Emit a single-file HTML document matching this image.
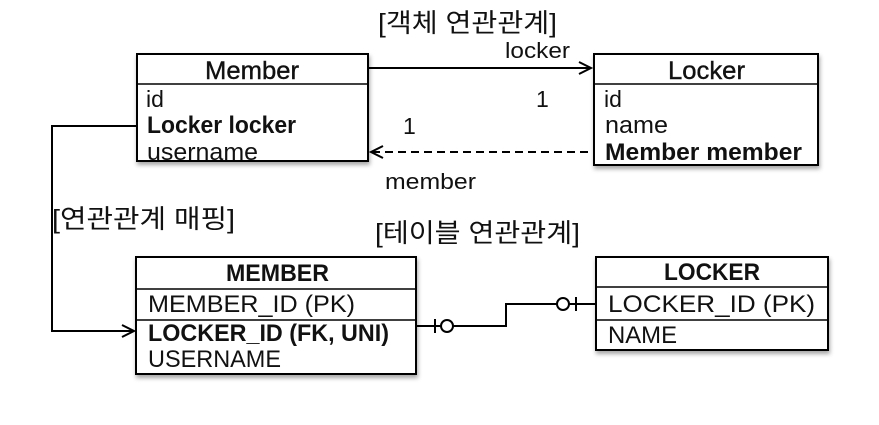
<!DOCTYPE html>
<html><head><meta charset="utf-8"><style>
html,body{margin:0;padding:0;background:#fff;}
svg{display:block;}
text{font-family:"Liberation Sans","Noto Sans CJK KR",sans-serif;fill:#111;}
</style></head><body>
<svg width="879" height="425" viewBox="0 0 879 425" xmlns="http://www.w3.org/2000/svg">
<defs>
<filter id="sh" x="-5%" y="-5%" width="112%" height="120%"><feDropShadow dx="1" dy="3" stdDeviation="2" flood-color="#000" flood-opacity="0.35"/></filter>
</defs>
<text x="378" y="32" font-size="26" textLength="179" lengthAdjust="spacingAndGlyphs">[객체 연관관계]</text>
<!-- Member -->
<rect x="137" y="54" width="231" height="107" fill="#fff" stroke="#000" stroke-width="2" filter="url(#sh)"/>
<line x1="137" y1="84" x2="368" y2="84" stroke="#000" stroke-width="1.5"/>
<text x="205" y="79" font-size="25" textLength="94" lengthAdjust="spacingAndGlyphs" stroke="#111" stroke-width="0.4">Member</text>
<text x="146" y="107" font-size="23" fill="#333">id</text>
<text x="147" y="133" font-size="24" font-weight="bold" textLength="149" lengthAdjust="spacingAndGlyphs">Locker locker</text>
<text x="147" y="160" font-size="24" fill="#333" textLength="111" lengthAdjust="spacingAndGlyphs">username</text>
<!-- Locker -->
<rect x="594" y="54" width="224" height="111" fill="#fff" stroke="#000" stroke-width="2" filter="url(#sh)"/>
<line x1="594" y1="84" x2="818" y2="84" stroke="#000" stroke-width="1.5"/>
<text x="668" y="79" font-size="25" textLength="77" lengthAdjust="spacingAndGlyphs" stroke="#111" stroke-width="0.4">Locker</text>
<text x="604" y="107" font-size="23" fill="#333">id</text>
<text x="605" y="133" font-size="24" fill="#333" textLength="63" lengthAdjust="spacingAndGlyphs">name</text>
<text x="605" y="160" font-size="24" font-weight="bold" textLength="197" lengthAdjust="spacingAndGlyphs">Member member</text>
<!-- arrows -->
<line x1="368" y1="68" x2="590" y2="68" stroke="#000" stroke-width="2"/>
<polyline points="579,62 591,68 579,74" fill="none" stroke="#000" stroke-width="2"/>
<text x="505" y="58" font-size="22" fill="#222" textLength="65" lengthAdjust="spacingAndGlyphs">locker</text>
<text x="536" y="107" font-size="23" fill="#222">1</text>
<text x="403" y="134" font-size="23" fill="#222">1</text>
<line x1="372" y1="152" x2="594" y2="152" stroke="#000" stroke-width="2" stroke-dasharray="8,5"/>
<polyline points="383,146 371,152 383,158" fill="none" stroke="#000" stroke-width="2"/>
<text x="385" y="189" font-size="22" fill="#222" textLength="91" lengthAdjust="spacingAndGlyphs">member</text>
<!-- mapping connector -->
<polyline points="137,126 52,126 52,331 134,331" fill="none" stroke="#000" stroke-width="2"/>
<polyline points="122,325 134,331 122,337" fill="none" stroke="#000" stroke-width="2"/>
<text x="52" y="228" font-size="26" textLength="183" lengthAdjust="spacingAndGlyphs">[연관관계 매핑]</text>
<text x="375" y="242" font-size="26" textLength="205" lengthAdjust="spacingAndGlyphs">[테이블 연관관계]</text>
<!-- MEMBER table -->
<rect x="136" y="257" width="280" height="117" fill="#fff" stroke="#000" stroke-width="2" filter="url(#sh)"/>
<line x1="136" y1="289" x2="416" y2="289" stroke="#000" stroke-width="1.5"/>
<line x1="136" y1="320" x2="416" y2="320" stroke="#000" stroke-width="1.5"/>
<text x="226" y="281" font-size="24" font-weight="bold" textLength="103" lengthAdjust="spacingAndGlyphs">MEMBER</text>
<text x="148" y="312" font-size="24" fill="#333" textLength="207" lengthAdjust="spacingAndGlyphs">MEMBER_ID (PK)</text>
<text x="148" y="341" font-size="24" font-weight="bold" textLength="241" lengthAdjust="spacingAndGlyphs">LOCKER_ID (FK, UNI)</text>
<text x="148" y="367" font-size="24" fill="#333" textLength="133" lengthAdjust="spacingAndGlyphs">USERNAME</text>
<!-- LOCKER table -->
<rect x="596" y="257" width="232" height="93" fill="#fff" stroke="#000" stroke-width="2" filter="url(#sh)"/>
<line x1="596" y1="287" x2="828" y2="287" stroke="#000" stroke-width="1.5"/>
<line x1="596" y1="320" x2="828" y2="320" stroke="#000" stroke-width="1.5"/>
<text x="664" y="280" font-size="24" font-weight="bold" textLength="96" lengthAdjust="spacingAndGlyphs">LOCKER</text>
<text x="608" y="312" font-size="24" fill="#333" textLength="207" lengthAdjust="spacingAndGlyphs">LOCKER_ID (PK)</text>
<text x="608" y="343" font-size="24" fill="#333" textLength="69" lengthAdjust="spacingAndGlyphs">NAME</text>
<!-- relation -->
<polyline points="416,326 441,326" fill="none" stroke="#000" stroke-width="2"/>
<line x1="435" y1="319" x2="435" y2="333" stroke="#000" stroke-width="2"/>
<circle cx="447" cy="326" r="6" fill="#fff" stroke="#000" stroke-width="2"/>
<polyline points="453,326 506,326 506,304 557,304" fill="none" stroke="#000" stroke-width="2"/>
<circle cx="563" cy="304" r="6" fill="#fff" stroke="#000" stroke-width="2"/>
<line x1="569" y1="304" x2="596" y2="304" stroke="#000" stroke-width="2"/>
<line x1="576" y1="297" x2="576" y2="311" stroke="#000" stroke-width="2"/>
</svg>
</body></html>
